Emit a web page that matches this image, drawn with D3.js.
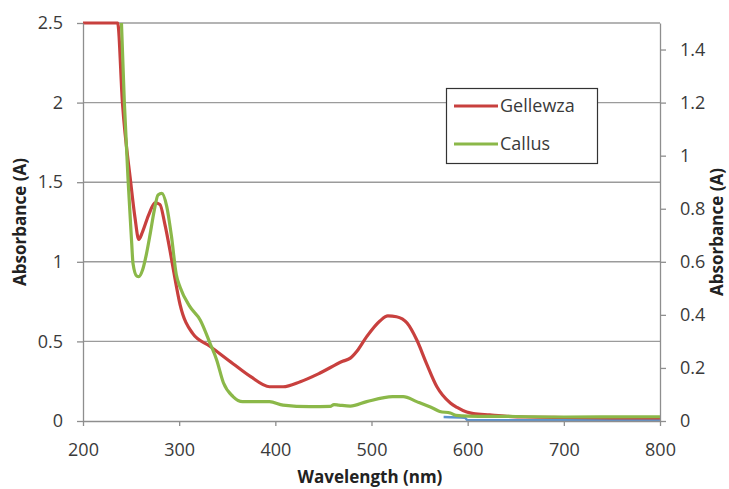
<!DOCTYPE html>
<html>
<head>
<meta charset="utf-8">
<script src="https://cdn.jsdelivr.net/npm/d3@7"></script>
<style>
  html, body { margin: 0; padding: 0; background: #fff; }
  svg { display: block; font-family: "Open Sans", "Liberation Sans", sans-serif; }
</style>
</head>
<body>
<svg id="chart" width="729" height="489"></svg>
<script>
// ---- data ----
const gellewzaWl  = [200, 236, 241, 249.6, 254, 258, 262, 268, 275, 280, 285, 290.5, 294, 301, 314, 332, 356, 374, 394, 408, 426, 446, 470, 478, 485, 495, 509, 517, 526, 537, 547, 557, 568, 582, 589, 599, 606, 623, 641, 660, 700, 750, 800];
const gellewzaAbs = [2.5, 2.5, 2.0, 1.5, 1.28, 1.14, 1.19, 1.29, 1.37, 1.36, 1.24, 1.07, 0.95, 0.73, 0.55, 0.47, 0.36, 0.28, 0.215, 0.215, 0.247, 0.30, 0.375, 0.395, 0.44, 0.53, 0.63, 0.66, 0.655, 0.615, 0.51, 0.364, 0.215, 0.113, 0.085, 0.056, 0.046, 0.038, 0.03, 0.025, 0.022, 0.02, 0.02];

// Callus plotted against the secondary (right) axis
const callusWl  = [240, 243, 247, 250.6, 252, 256, 258, 262, 266, 270, 274, 278, 282, 287, 292, 297, 301, 311, 322, 332, 339, 346, 356, 366, 394, 408, 436, 457, 461, 466, 478, 495, 522, 533, 547, 564, 571, 582, 588, 600, 650, 700, 800];
const callusAbs = [1.5, 1.2, 0.9, 0.672, 0.594, 0.546, 0.544, 0.57, 0.63, 0.708, 0.792, 0.852, 0.858, 0.81, 0.696, 0.552, 0.504, 0.432, 0.38, 0.294, 0.23, 0.144, 0.092, 0.073, 0.073, 0.06, 0.054, 0.055, 0.062, 0.06, 0.056, 0.073, 0.092, 0.092, 0.073, 0.048, 0.036, 0.03, 0.021, 0.018, 0.017, 0.015, 0.016];

// third (baseline) trace, mostly hidden under the axis
const baseWl  = [575, 597, 600, 800];
const baseAbs = [0.025, 0.02, 0.005, 0.005];

const xTicks      = [200, 300, 400, 500, 600, 700, 800];
const leftTicks   = [0, 0.5, 1, 1.5, 2, 2.5];
const rightTicks  = [0, 0.2, 0.4, 0.6, 0.8, 1, 1.2, 1.4];
const seriesNames = ["Gellewza", "Callus"];
const seriesColors = ["#c8403e", "#8bb849"];

// ---- layout ----
const svg = d3.select("#chart");
const m = { left: 83, right: 660, top: 23, bottom: 421 };

const x  = d3.scaleLinear().domain([200, 800]).range([m.left, m.right]);
const yL = d3.scaleLinear().domain([0, 2.5]).range([m.bottom, m.top]);
const yR = d3.scaleLinear().domain([0, 1.5]).range([m.bottom, m.top]);

const gridColor = "#9b9b9b";
const axisColor = "#8e8e8e";
const textColor = "#3a3a3a";

// gridlines
svg.append("g").selectAll("line").data(leftTicks.filter(d => d > 0)).join("line")
  .attr("x1", m.left).attr("x2", m.right)
  .attr("y1", d => yL(d)).attr("y2", d => yL(d))
  .attr("stroke", gridColor).attr("stroke-width", 1.4);

// clip
svg.append("defs").append("clipPath").attr("id", "plot")
  .append("rect").attr("x", m.left).attr("y", m.top - 2)
  .attr("width", m.right - m.left).attr("height", m.bottom - m.top + 2);

const plot = svg.append("g").attr("clip-path", "url(#plot)");

const lineL = d3.line().x(d => x(d[0])).y(d => yL(d[1])).curve(d3.curveMonotoneX);
const lineR = d3.line().x(d => x(d[0])).y(d => yR(d[1])).curve(d3.curveMonotoneX);

plot.append("path").datum(d3.zip(baseWl, baseAbs))
  .attr("d", lineL).attr("fill", "none").attr("stroke", "#5b93cf").attr("stroke-width", 2.5);

plot.append("path").datum(d3.zip(gellewzaWl, gellewzaAbs))
  .attr("d", lineL).attr("fill", "none").attr("stroke", seriesColors[0])
  .attr("stroke-width", 3.2).attr("stroke-linejoin", "round");

plot.append("path").datum(d3.zip(callusWl, callusAbs))
  .attr("d", lineR).attr("fill", "none").attr("stroke", seriesColors[1])
  .attr("stroke-width", 3.2).attr("stroke-linejoin", "round");

// axes
function styleAxis(g) {
  g.selectAll(".domain").attr("stroke", axisColor).attr("stroke-width", 1.3);
  g.selectAll(".tick line").attr("stroke", axisColor).attr("stroke-width", 1.3);
  g.selectAll(".tick text").attr("fill", textColor).style("font-size", "18px")
    .style("font-family", "'Open Sans', sans-serif");
}
const fmt = d3.format("~g");

svg.append("g").attr("transform", `translate(0,${m.bottom})`)
  .call(d3.axisBottom(x).tickValues(xTicks).tickSize(5).tickPadding(17).tickFormat(fmt).tickSizeOuter(0))
  .call(styleAxis);

svg.append("g").attr("transform", `translate(${m.left},0)`)
  .call(d3.axisLeft(yL).tickValues(leftTicks).tickSize(6).tickPadding(14).tickFormat(fmt).tickSizeOuter(0))
  .call(styleAxis);

svg.append("g").attr("transform", `translate(${m.right},0)`)
  .call(d3.axisRight(yR).tickValues(rightTicks).tickSize(6).tickPadding(14).tickFormat(fmt).tickSizeOuter(0))
  .call(styleAxis);

// axis titles
svg.append("text").attr("x", 370).attr("y", 483).attr("text-anchor", "middle")
  .attr("font-weight", "bold").attr("font-size", 17).attr("fill", "#222")
  .text("Wavelength (nm)");

svg.append("text").attr("transform", "translate(26,222) rotate(-90)").attr("text-anchor", "middle")
  .attr("font-weight", "bold").attr("font-size", 17).attr("fill", "#222")
  .text("Absorbance (A)");

svg.append("text").attr("transform", "translate(723,232) rotate(-90)").attr("text-anchor", "middle")
  .attr("font-weight", "bold").attr("font-size", 17).attr("fill", "#222")
  .text("Absorbance (A)");

// legend
const lg = svg.append("g");
lg.append("rect").attr("x", 446.5).attr("y", 88.5).attr("width", 151).attr("height", 75)
  .attr("fill", "#fff").attr("stroke", "#333").attr("stroke-width", 1.2);
const ly = [106, 144];
seriesNames.forEach((n, i) => {
  lg.append("line").attr("x1", 454).attr("x2", 498).attr("y1", ly[i]).attr("y2", ly[i])
    .attr("stroke", seriesColors[i]).attr("stroke-width", 3.2);
  lg.append("text").attr("x", 500).attr("y", ly[i]).attr("dy", "0.35em")
    .attr("font-size", 18).attr("fill", textColor).text(n);
});
</script>
</body>
</html>
